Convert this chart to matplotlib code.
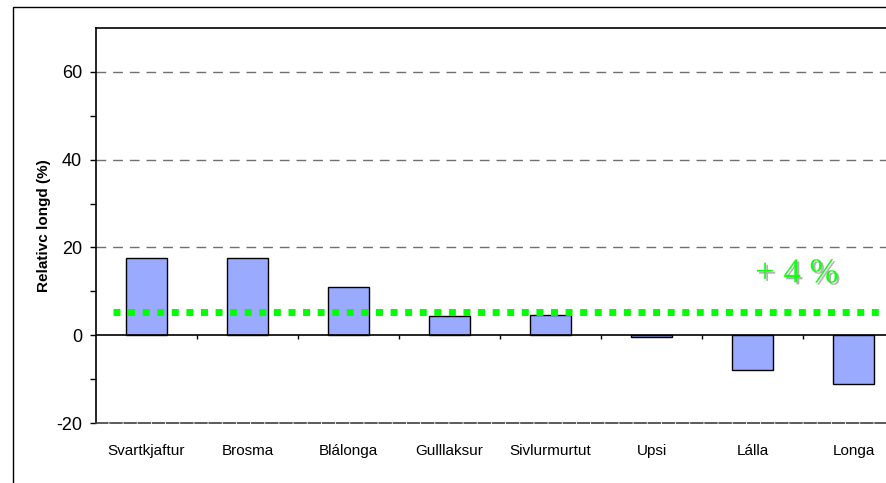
import numpy as np
import matplotlib
matplotlib.use("Agg")
import matplotlib.pyplot as plt
import matplotlib.patheffects as pe
from matplotlib.patches import Rectangle

# data
species = ["Svartkjaftur", "Brosma", "Blálonga", "Gulllaksur", "Sivlurmurtut",
           "Upsi", "Lálla", "Longa"]
rel_length = [17.5, 17.5, 10.9, 4.3, 4.6, -0.4, -8.0, -11.2]
mean_level = 5.2
mean_label = "+ 4 %"
y_major = [-20, 0, 20, 40, 60]
y_minor = [-10, 10, 30, 50]

plt.rcParams['font.family'] = ['Liberation Sans', 'DejaVu Sans']
plt.rcParams['axes.unicode_minus'] = False

fig = plt.figure(figsize=(8.86, 4.83), dpi=100)
# outer chart border (runs off the right and bottom of the image)
fig.patches.append(Rectangle((13 / 886, -0.1), 1.2, 1.1 - 7 / 483,
                             transform=fig.transFigure, fill=False,
                             edgecolor='black', linewidth=1.0))

ax = fig.add_axes([96 / 886, 1 - 423 / 483, 808 / 886, 395 / 483])
x = np.arange(len(species))

ax.bar(x, rel_length, width=0.4, color='#99aaff', edgecolor='black',
       linewidth=1.0, zorder=3)

ax.set_xlim(-0.5, len(species) - 0.5)
ax.set_ylim(-20, 70)

# dashed gridlines
for v in y_major[2:]:
    ax.axhline(v, color='#707070', linestyle=(0, (7, 5)), linewidth=1.0, zorder=1)

# category axis at zero with boundary ticks
ax.axhline(0, color='black', linewidth=1.2, zorder=4)
bounds = x[:-1] + 0.5
ax.vlines(bounds, -0.9, 0, color='black', linewidth=1.0, zorder=4)

# mean line
ax.hlines(mean_level, -0.33, len(species) - 0.5, colors='#00ff00',
          linestyles=(0, (1, 1.1)), linewidth=5, zorder=5)
ax.text(6.44, 14.0, mean_label, ha='center', va='center', fontsize=25,
        family=['Liberation Serif'], color='#11ff11', zorder=6,
        path_effects=[pe.withSimplePatchShadow(offset=(1.5, -1.5),
                                               shadow_rgbFace='gray', alpha=0.6)])

ax.set_xticks(x)
ax.set_xticklabels(species, fontsize=11)
ax.tick_params(axis='x', length=0, pad=15)

ax.set_yticks(y_major)
ax.set_yticks(y_minor, minor=True)
ax.tick_params(axis='y', which='both', direction='out', length=4, width=1.0,
               labelsize=13, pad=6)
ax.set_ylabel("Relativc longd (%)", fontsize=11, fontweight='bold', labelpad=4)

for s in ['left', 'top']:
    ax.spines[s].set_color('black')
    ax.spines[s].set_linewidth(1.2)
ax.spines['right'].set_visible(False)
ax.spines['bottom'].set_color('#404040')
ax.spines['bottom'].set_linestyle((0, (7, 1.5)))
ax.spines['bottom'].set_linewidth(1.2)

fig.savefig("out.png", dpi=100)
